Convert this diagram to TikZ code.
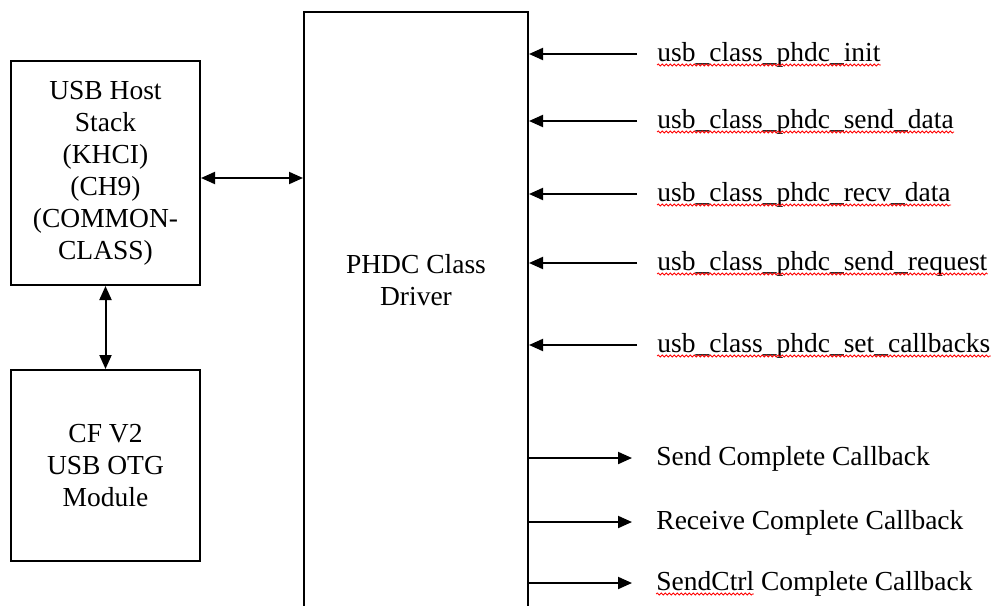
\documentclass[tikz,border=0pt]{standalone}
\usepackage{fontspec}
\setmainfont{Liberation Serif}
\usetikzlibrary{arrows.meta,decorations.pathmorphing}
\newlength\ctrlwidth
\settowidth\ctrlwidth{\fontsize{13.75}{16}\selectfont SendCtrl}
\begin{document}
\begin{tikzpicture}[x=0.5pt,y=-0.5pt,
  font=\fontsize{13.75}{16}\selectfont,
  blk/.style={draw,line width=1pt,inner sep=0pt},
  txt/.style={align=center,inner sep=0pt},
  lbl/.style={anchor=base west,inner sep=0pt},
  arr/.style={line width=1pt,-{Triangle[length=7pt,width=6pt]}},
  dbl/.style={line width=1pt,{Triangle[length=7pt,width=6pt]}-{Triangle[length=7pt,width=6pt]}},
  wavy/.style={draw=red,line width=0.4pt,decorate,
    decoration={snake,amplitude=0.5pt,segment length=2pt}}]
\useasboundingbox (0,0) rectangle (995,605);
\clip (0,0) rectangle (995,605);

% blocks
\node[blk,minimum width=94.5pt,minimum height=112pt,txt] (host) at (105.5,173)
  {USB Host\\Stack\\(KHCI)\\(CH9)\\(COMMON-\\CLASS)};
\node[blk,minimum width=94.5pt,minimum height=95.5pt,txt] (otg) at (105.5,465.5)
  {CF V2\\USB OTG\\Module};
\node[blk,minimum width=112pt,minimum height=320pt] (drv) at (416,332) {};
\node[txt] (drvtxt) at (416,280) {PHDC Class\\Driver};

% host links
\draw[dbl] ([yshift=-2.5pt]host.east) -- ([yshift=-2.5pt]host.east -| drv.west);
\draw[dbl] (host.south) -- (otg.north);

% API calls into the driver
\coordinate (c1) at (637,54);
\coordinate (c2) at (637,121);
\coordinate (c3) at (637,194);
\coordinate (c4) at (637,263);
\coordinate (c5) at (637,345);
\node[lbl] (l1) at (657,61) {usb\_class\_phdc\_init};
\node[lbl] (l2) at (657,128) {usb\_class\_phdc\_send\_data};
\node[lbl] (l3) at (657,201) {usb\_class\_phdc\_recv\_data};
\node[lbl] (l4) at (657,270) {usb\_class\_phdc\_send\_request};
\node[lbl] (l5) at (657,352) {usb\_class\_phdc\_set\_callbacks};
\foreach \i in {1,...,5}{
  \draw[arr] (c\i) -- (c\i -| drv.east);
  \path[wavy] ([yshift=-2pt]l\i.base west) -- ([yshift=-2pt]l\i.base east);
}

% callbacks out of the driver
\coordinate (d1) at (632,458);
\coordinate (d2) at (632,522);
\coordinate (d3) at (632,583);
\node[lbl] (l6) at (656,465) {Send Complete Callback};
\node[lbl] (l7) at (656,529) {Receive Complete Callback};
\node[lbl] (l8) at (656,590) {SendCtrl Complete Callback};
\foreach \i in {1,2,3}{
  \draw[arr] (d\i -| drv.east) -- (d\i);
}
\path[wavy] ([yshift=-2pt]l8.base west) -- ++(\ctrlwidth,0);
\end{tikzpicture}
\end{document}
